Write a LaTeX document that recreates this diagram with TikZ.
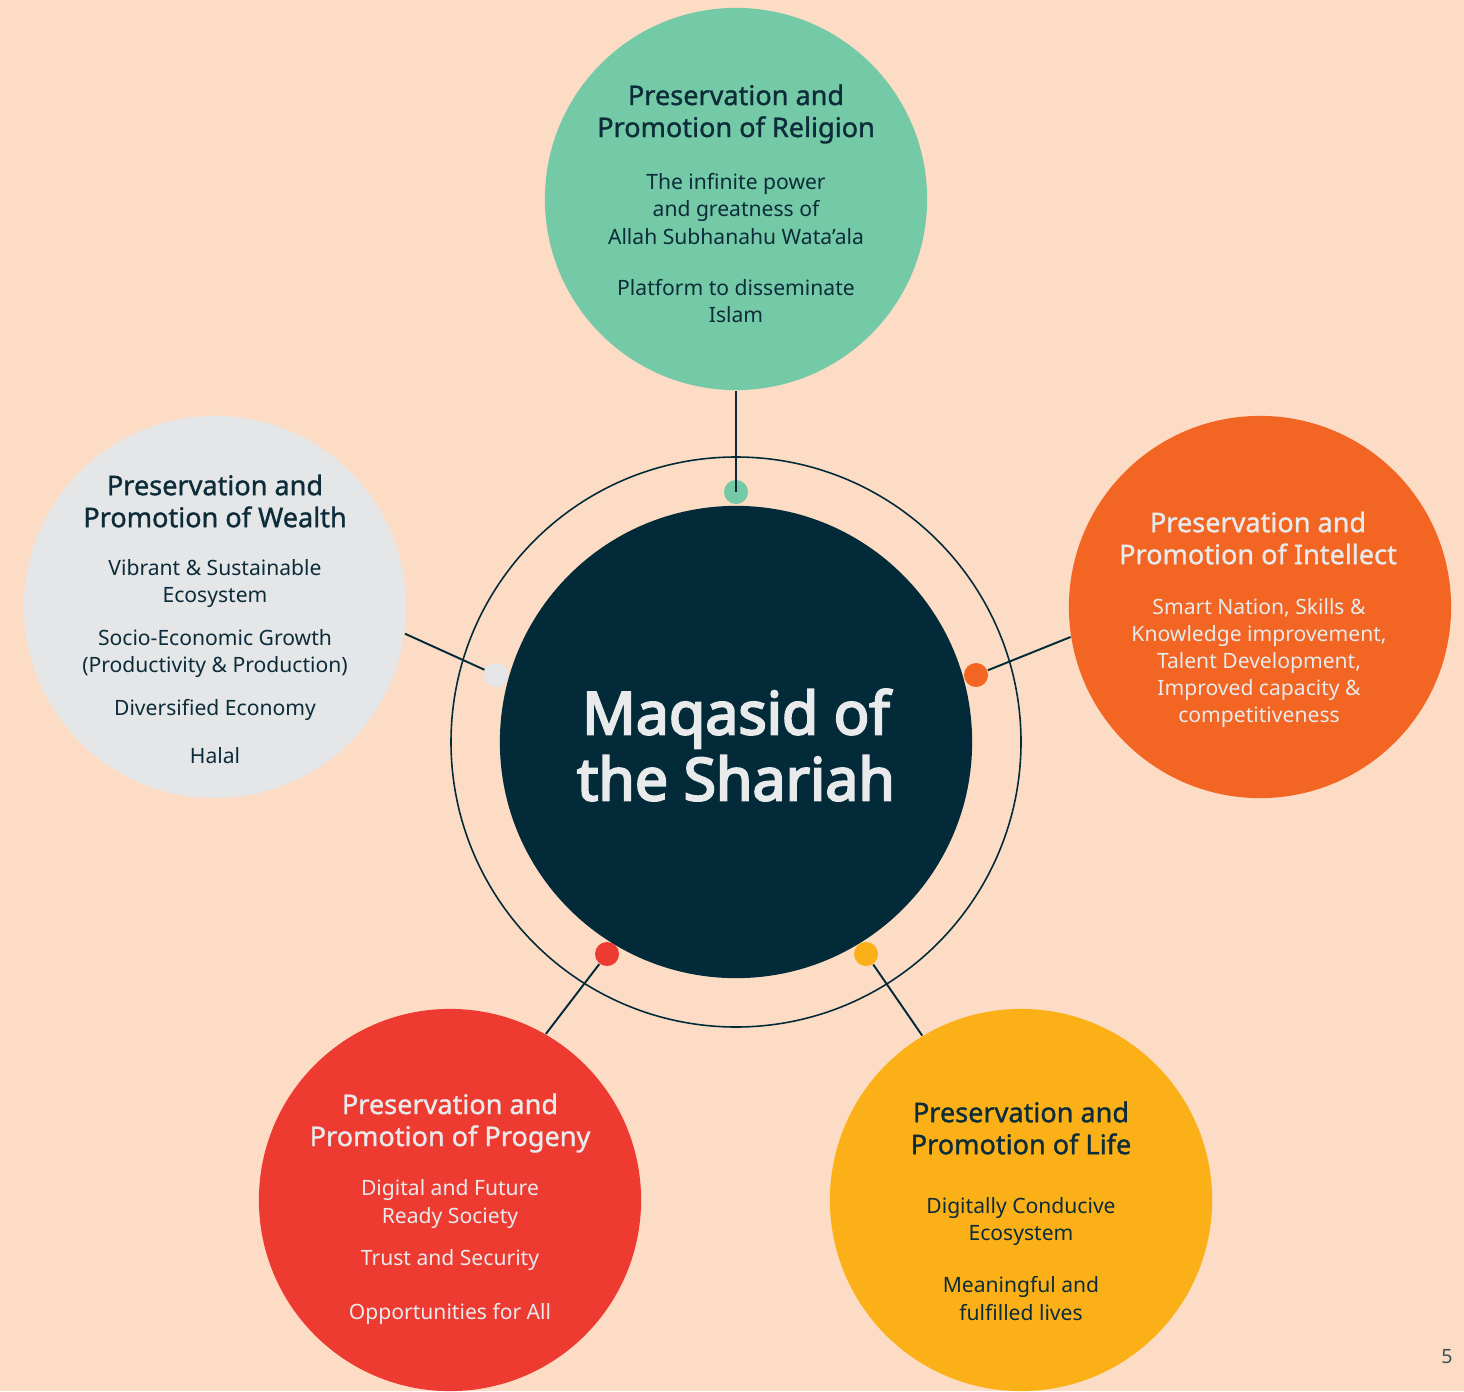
\documentclass[tikz,border=0pt]{standalone}
\usepackage{fontspec}
\setmainfont{Noto Sans}
\newfontfamily\headfont[FakeBold=1.2]{Noto Sans}
\newfontfamily\titlefont[FakeBold=3.5]{Noto Sans}
\usetikzlibrary{positioning}

\definecolor{peach}{HTML}{FCDCC5}
\definecolor{ink}{HTML}{022A38}
\definecolor{religion}{HTML}{74C9A6}
\definecolor{wealth}{HTML}{E5E6E7}
\definecolor{intellect}{HTML}{F26522}
\definecolor{progeny}{HTML}{EE3B32}
\definecolor{life}{HTML}{FBB017}
\definecolor{darktext}{HTML}{0C2C3A}
\definecolor{lighttext}{HTML}{E8EAEC}
\definecolor{pagegray}{HTML}{3A4F5A}

\tikzset{
  pillar/.style={circle, minimum size=3.82cm, inner sep=0pt},
  dot/.style={circle, minimum size=0.24cm, inner sep=0pt},
  heading/.style={font=\headfont\fontsize{7.7}{9.1}\selectfont, align=center, inner sep=0pt},
  detail/.style={font=\fontsize{6}{7.7}\selectfont, align=center, inner sep=0pt},
  link/.style={draw=ink, line width=0.55pt},
}

\begin{document}
\begin{tikzpicture}[x=0.01cm, y=-0.01cm]
  \fill[peach] (0,0) rectangle (1464,1391);
  \useasboundingbox (0,0) rectangle (1464,1391);

  % the five circles
  \node[pillar, fill=religion] (religion) at (736,199) {};
  \node[pillar, fill=wealth] (wealth) at (215,607) {};
  \node[pillar, fill=intellect] (intellect) at (1260,607) {};
  \node[pillar, fill=progeny] (progeny) at (450,1200) {};
  \node[pillar, fill=life] (life) at (1021,1200) {};

  % centre
  \draw[ink, line width=0.45pt] (736,742) circle (285);
  \node[circle, fill=ink, minimum size=4.72cm, inner sep=0pt] (maqasid) at (736,742) {};

  \node[dot, fill=religion] (d1) at (736,492) {};
  \node[dot, fill=wealth] (d2) at (496,675) {};
  \node[dot, fill=intellect] (d3) at (976,675) {};
  \node[dot, fill=progeny] (d4) at (607,954) {};
  \node[dot, fill=life] (d5) at (866,954) {};

  \draw[link] (religion.south) -- (d1.center);
  \draw[link] (wealth.-8) -- (d2);
  \draw[link] (intellect.-171) -- (d3);
  \draw[link] (progeny.60) -- (d4);
  \draw[link] (life.121) -- (d5);

  \node[font=\titlefont\fontsize{16.8}{18.8}\selectfont, align=center, text=lighttext, inner sep=0pt]
    (title) at (736,745) {Maqasid of\\the Shariah};

  % texts
  \node[heading, text=darktext] (religion-head) at (736,114) {Preservation and\\Promotion of Religion};
  \node[detail, text=darktext] (religion-body) at (736,248)
    {The infinite power\\and greatness of\\Allah Subhanahu Wata’ala\\[6.8pt]Platform to disseminate\\Islam};

  \node[heading, text=darktext] (wealth-head) at (215,501) {Preservation and\\Promotion of Wealth};
  \node[detail, text=darktext] (wealth-body) at (215,662)
    {Vibrant \& Sustainable\\Ecosystem\\[4.5pt]Socio-Economic Growth\\(Productivity \& Production)\\[4.5pt]Diversified Economy\\[6pt]Halal};

  \node[heading, text=lighttext] (intellect-head) at (1258,538) {Preservation and\\Promotion of Intellect};
  \node[detail, text=lighttext] (intellect-body) at (1259,663)
    {Smart Nation, Skills \&\\Knowledge improvement,\\Talent Development,\\Improved capacity \&\\competitiveness};

  \node[heading, text=lighttext] (progeny-head) at (450,1123) {Preservation and\\Promotion of Progeny};
  \node[detail, text=lighttext] (progeny-body) at (450,1252)
    {Digital and Future\\Ready Society\\[4.5pt]Trust and Security\\[7.4pt]Opportunities for All};

  \node[heading, text=darktext] (life-head) at (1021,1128) {Preservation and\\Promotion of Life};
  \node[detail, text=darktext] (life-body) at (1021,1259)
    {Digitally Conducive\\Ecosystem\\[7.1pt]Meaningful and\\fulfilled lives};

  \node[font=\fontsize{5.6}{6.7}\selectfont, text=pagegray, inner sep=0pt] (page) at (1447,1357) {5};
\end{tikzpicture}
\end{document}
